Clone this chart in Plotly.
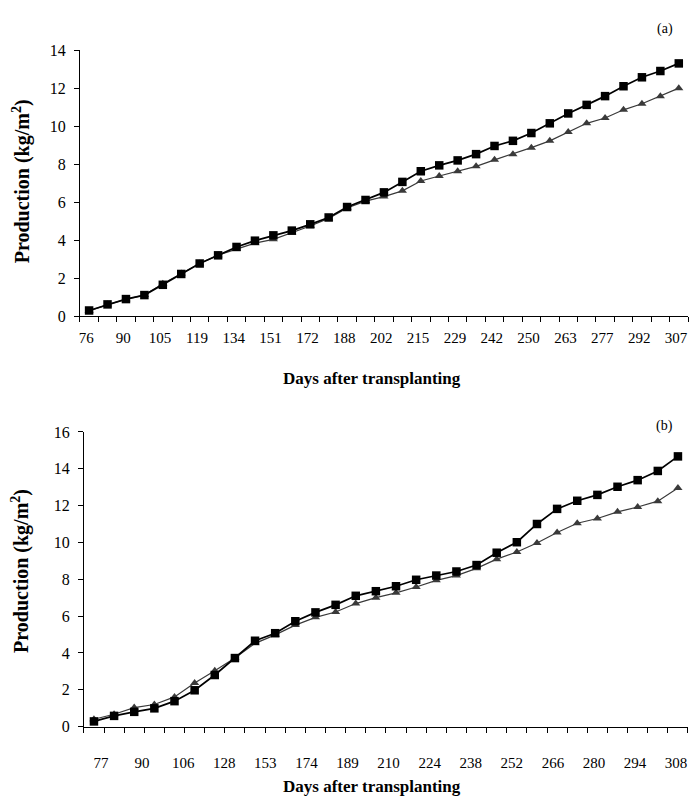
import plotly.graph_objects as go

# ---------------- data ----------------
# Panel (a): 33 harvest dates, labels shown on every other date
labels_a = [76, 90, 105, 119, 134, 151, 172, 188, 202, 215, 229, 242, 250, 263, 277, 292, 307]
square_a = [0.31, 0.63, 0.91, 1.12, 1.66, 2.23, 2.78, 3.21, 3.65, 3.98, 4.26, 4.51, 4.84, 5.20,
            5.75, 6.12, 6.52, 7.07, 7.63, 7.94, 8.20, 8.53, 8.96, 9.23, 9.64, 10.15, 10.67,
            11.12, 11.58, 12.10, 12.57, 12.90, 13.30]
triangle_a = [0.28, 0.62, 0.90, 1.12, 1.72, 2.25, 2.78, 3.22, 3.55, 3.85, 4.05, 4.40, 4.75, 5.15,
              5.70, 6.06, 6.30, 6.60, 7.12, 7.38, 7.63, 7.89, 8.23, 8.53, 8.87, 9.23, 9.69,
              10.15, 10.43, 10.86, 11.18, 11.58, 12.00]

# Panel (b): 30 harvest dates
labels_b = [77, 90, 106, 128, 153, 174, 189, 210, 224, 238, 252, 266, 280, 294, 308]
square_b = [0.28, 0.58, 0.80, 0.99, 1.38, 1.97, 2.80, 3.72, 4.66, 5.07, 5.72, 6.20, 6.61, 7.10,
            7.35, 7.62, 7.97, 8.20, 8.42, 8.77, 9.44, 10.01, 11.00, 11.82, 12.26, 12.58, 13.02,
            13.38, 13.88, 14.67]
triangle_b = [0.40, 0.67, 1.03, 1.20, 1.61, 2.36, 3.03, 3.72, 4.52, 4.98, 5.51, 5.93, 6.22, 6.68,
              7.00, 7.26, 7.58, 7.94, 8.20, 8.59, 9.09, 9.48, 9.97, 10.54, 11.04, 11.30, 11.66,
              11.92, 12.24, 12.95]

x_title = "Days after transplanting"
y_title = "Production (kg/m<sup>2</sup>)"

# ---------------- layout helpers ----------------
W, H = 691, 809
def px_x(p):
    return p / W
def px_y(p):
    return 1 - p / H

FONT = "Liberation Serif, Times New Roman, serif"
SQ_COLOR = "#000000"
TR_COLOR = "#3a3a3a"

fig = go.Figure()

def add_series(xa, ya, vals, symbol, color, lw, ms):
    fig.add_trace(go.Scatter(
        x=list(range(len(vals))), y=vals, xaxis=xa, yaxis=ya,
        mode="lines+markers",
        line=dict(color=color, width=lw),
        marker=dict(symbol=symbol, size=ms, color=color),
        cliponaxis=False, showlegend=False, hoverinfo="x+y"))

add_series("x", "y", triangle_a, "triangle-up", TR_COLOR, 1.2, 8)
add_series("x", "y", square_a, "square", SQ_COLOR, 1.7, 8.5)
add_series("x2", "y2", triangle_b, "triangle-up", TR_COLOR, 1.2, 8)
add_series("x2", "y2", square_b, "square", SQ_COLOR, 1.7, 8.5)

n_a = len(square_a)
n_b = len(square_b)
tickpos_a = [2 * k - 0.15 for k in range(len(labels_a))]
tickpos_b = [0.35 + 2.04 * k for k in range(len(labels_b))]

xtickfont = dict(family=FONT, size=15, color="black")
ytickfont = dict(family=FONT, size=16, color="black")

def xaxis_cfg(n, tickpos, labels, domain, anchor, standoff):
    return dict(
        domain=domain, anchor=anchor, range=[-0.5, n - 0.5],
        showline=True, linecolor="black", linewidth=1,
        showgrid=False, zeroline=False,
        tickmode="array", tickvals=tickpos, ticktext=[str(v) for v in labels],
        ticks="outside", ticklen=standoff, tickcolor="rgba(0,0,0,0)",
        tickfont=xtickfont, tickangle=0,
        minor=dict(tickmode="array", tickvals=[i - 0.5 for i in range(n + 1)],
                   ticks="outside", ticklen=5, tickcolor="black", tickwidth=1,
                   showgrid=False),
        fixedrange=True)

def yaxis_cfg(top, domain, anchor):
    return dict(
        domain=domain, anchor=anchor, range=[0, top],
        showline=True, linecolor="black", linewidth=1,
        showgrid=False, zeroline=False,
        tickmode="array", tickvals=list(range(0, top + 1, 2)),
        ticks="outside", ticklen=5, tickcolor="black",
        ticklabelstandoff=5,
        tickfont=ytickfont, fixedrange=True)

fig.update_layout(
    width=W, height=H,
    margin=dict(l=0, r=0, t=0, b=0),
    paper_bgcolor="white", plot_bgcolor="white",
    font=dict(family=FONT, color="black"),
    xaxis=xaxis_cfg(n_a, tickpos_a, labels_a, [px_x(79), px_x(688)], "y", 8),
    yaxis=yaxis_cfg(14, [px_y(315), px_y(43)], "x"),
    xaxis2=xaxis_cfg(n_b, tickpos_b, labels_b, [px_x(83), px_x(688)], "y2", 22),
    yaxis2=yaxis_cfg(16, [px_y(734), px_y(433)], "x2"),
)

title_font = dict(family=FONT, size=17, color="black")
ytitle_font = dict(family=FONT, size=20, color="black")
ann = [
    dict(text="<b>" + x_title + "</b>", x=px_x(372), y=px_y(378), font=title_font),
    dict(text="<b>" + x_title + "</b>", x=px_x(372), y=px_y(795), font=title_font),
    dict(text="<b>" + y_title + "</b>", x=px_x(20), y=px_y(177), textangle=-90, font=ytitle_font),
    dict(text="<b>" + y_title + "</b>", x=px_x(20), y=px_y(575), textangle=-90, font=ytitle_font),
]
for a in ann:
    fig.add_annotation(xref="paper", yref="paper", showarrow=False,
                       xanchor="center", yanchor="middle", **a)

for txt, xx, yy in [("(a)", 665, 21), ("(b)", 664, 427)]:
    fig.add_annotation(text=txt, xref="paper", yref="paper", x=px_x(xx), y=px_y(yy),
                       showarrow=False, xanchor="center", yanchor="middle",
                       font=dict(family=FONT, size=14, color="black"))

fig.write_html(
    "out.html",
    config={"displayModeBar": False},
    post_script="document.body.style.margin='0';document.body.style.overflow='hidden';",
)
